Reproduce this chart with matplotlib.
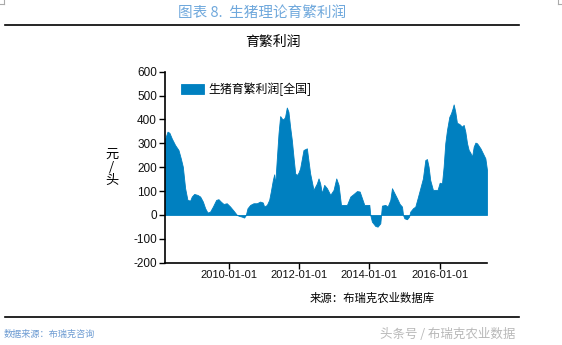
import matplotlib
matplotlib.use("Agg")
import matplotlib.pyplot as plt
import matplotlib.dates as mdates
import pandas as pd

plt.rcParams['font.family'] = ['Noto Sans CJK SC', 'DejaVu Sans']

dates = [
    "2008-03-10", "2008-04-08", "2008-04-28", "2008-05-23", "2008-06-26", "2008-07-31",
    "2008-08-24", "2008-09-14", "2008-10-08", "2008-11-01", "2008-11-29", "2008-12-16",
    "2009-01-10", "2009-02-13", "2009-03-13", "2009-04-10", "2009-05-04", "2009-05-28",
    "2009-06-24", "2009-07-23", "2009-08-26", "2009-09-19", "2009-10-13", "2009-11-10",
    "2009-12-14", "2010-01-18", "2010-02-22", "2010-03-29", "2010-04-22", "2010-05-19",
    "2010-06-12", "2010-06-30", "2010-07-17", "2010-08-14", "2010-09-17", "2010-10-22",
    "2010-11-25", "2010-12-23", "2011-01-06", "2011-02-03", "2011-02-27", "2011-03-16",
    "2011-04-06", "2011-04-20", "2011-04-30", "2011-05-17", "2011-06-04", "2011-06-21",
    "2011-07-08", "2011-07-25", "2011-08-11", "2011-08-29", "2011-09-15", "2011-10-02",
    "2011-10-20", "2011-11-06", "2011-11-24", "2011-12-11", "2011-12-28", "2012-01-14",
    "2012-02-18", "2012-03-24", "2012-04-27", "2012-06-01", "2012-07-06", "2012-07-23",
    "2012-08-09", "2012-08-27", "2012-09-20", "2012-10-18", "2012-11-22", "2012-12-26",
    "2013-01-23", "2013-02-16", "2013-03-13", "2013-04-10", "2013-05-14", "2013-06-18",
    "2013-07-22", "2013-08-26", "2013-09-23", "2013-10-17", "2013-11-10", "2013-12-08",
    "2014-01-01", "2014-01-11", "2014-01-28", "2014-03-04", "2014-03-28", "2014-04-25",
    "2014-05-12", "2014-06-16", "2014-07-10", "2014-08-07", "2014-08-24", "2014-09-10",
    "2014-10-15", "2014-11-12", "2014-12-06", "2014-12-17", "2014-12-31", "2015-01-27",
    "2015-02-17", "2015-03-02", "2015-03-30", "2015-04-23", "2015-05-17", "2015-06-14",
    "2015-07-11", "2015-08-05", "2015-08-22", "2015-09-08", "2015-09-25", "2015-10-23",
    "2015-11-16", "2015-12-10", "2016-01-01", "2016-01-25", "2016-02-11", "2016-02-28",
    "2016-03-17", "2016-04-10", "2016-04-27", "2016-05-14", "2016-05-25", "2016-06-11",
    "2016-06-28", "2016-07-23", "2016-08-19", "2016-09-06", "2016-09-23", "2016-10-11",
    "2016-10-28", "2016-11-14", "2016-12-02", "2016-12-19", "2017-01-06", "2017-01-23",
    "2017-02-27", "2017-04-02", "2017-04-19", "2017-05-06",
]
profit = [
    314, 349, 344, 320, 293, 272,
    237, 202, 112, 63, 60, 77,
    88, 84, 77, 56, 28, 10,
    14, 35, 63, 66, 56, 46,
    49, 35, 18, 0, -4, -7,
    -11, 0, 28, 42, 49, 49,
    56, 52, 35, 42, 63, 98,
    146, 170, 126, 233, 342, 414,
    404, 400, 411, 450, 432, 370,
    314, 244, 174, 167, 177, 195,
    272, 279, 174, 105, 132, 153,
    132, 91, 126, 112, 84, 105,
    153, 126, 42, 42, 42, 77,
    88, 100, 98, 70, 42, 42,
    42, 0, -28, -46, -49, -35,
    39, 42, 35, 63, 112, 98,
    70, 46, 35, 0, -14, -18,
    -7, 14, 28, 35, 70, 112,
    153, 230, 234, 202, 146, 105,
    105, 105, 135, 132, 202, 300,
    356, 411, 425, 446, 463, 432,
    386, 381, 370, 377, 349, 300,
    272, 261, 244, 286, 303, 300,
    279, 251, 237, 188,
]
series_name = "生猪育繁利润[全国]"
yticks = [-200, -100, 0, 100, 200, 300, 400, 500, 600]
xtick_dates = ["2010-01-01", "2012-01-01", "2014-01-01", "2016-01-01"]

x = pd.to_datetime(dates)
W, H = 562, 345
fig = plt.figure(figsize=(W / 100, H / 100), dpi=100)
ax = fig.add_axes([164.7 / W, 1 - 262.7 / H, (487.0 - 164.7) / W, (262.7 - 71.7) / H])

color = "#0080C0"
ax.fill_between(x, profit, 0, color=color, linewidth=0.6, edgecolor=color, label=series_name)
ax.set_xlim(x[0], x[-1])
ax.set_ylim(-200, 600)
ax.set_yticks(yticks)
ax.set_yticklabels([str(v) for v in yticks], fontsize=8.5, family=['Liberation Sans', 'DejaVu Sans'], color='#111111')
xt = pd.to_datetime(xtick_dates)
ax.set_xticks(xt)
ax.set_xticklabels(xtick_dates, fontsize=8, family=['Liberation Sans', 'DejaVu Sans'], color='#111111')
ax.tick_params(axis='both', length=4, width=1, color='black', pad=1.5)
for s in ['top', 'right']:
    ax.spines[s].set_visible(False)
for s in ['left', 'bottom']:
    ax.spines[s].set_linewidth(1.2)
    ax.spines[s].set_color('black')

leg = ax.legend(loc='upper left', bbox_to_anchor=(12 / (487 - 164.7), 1 - 6 / 191), frameon=False,
                fontsize=8.6, handlelength=1.85, handleheight=0.85, handletextpad=0.4, borderaxespad=0)

# y-axis label (stacked vertical)
fig.text(111.7 / W, 1 - 167.5 / H, "元\n/\n头", ha='center', va='center', fontsize=9.5, linespacing=1.0)

# chart title
fig.text(272.7 / W, 1 - 42 / H, "育繁利润", ha='center', va='center', fontsize=10)

# header
fig.text(262 / W, 1 - 13 / H, "图表 8.  生猪理论育繁利润", ha='center', va='center', fontsize=10.5, color='#6FA8DC')
fig.add_artist(plt.Line2D([5 / W, 519 / W], [1 - 24.5 / H, 1 - 24.5 / H], color='black', linewidth=1.2))

# source
fig.text(310 / W, 1 - 298.3 / H, "来源：布瑞克农业数据库", ha='left', va='center', fontsize=8.2)
fig.add_artist(plt.Line2D([5 / W, 519 / W], [1 - 317.3 / H, 1 - 317.3 / H], color='black', linewidth=1.2))

fig.text(4 / W, 1 - 334.3 / H, "数据来源：布瑞克咨询", ha='left', va='center', fontsize=6.6, color='#6C9BD2')
fig.text(515 / W, 1 - 334 / H, "头条号 / 布瑞克农业数据", ha='right', va='center', fontsize=9, color='#B8B8B8')

# corner marks
fig.add_artist(plt.Line2D([0, 4 / W], [1 - 4 / H, 1 - 4 / H], color='#AAAAAA', linewidth=0.8))
fig.add_artist(plt.Line2D([4 / W, 4 / W], [1, 1 - 4 / H], color='#AAAAAA', linewidth=0.8))
fig.add_artist(plt.Line2D([558 / W, 562 / W], [1 - 4 / H, 1 - 4 / H], color='#AAAAAA', linewidth=0.8))
fig.add_artist(plt.Line2D([558 / W, 558 / W], [1, 1 - 4 / H], color='#AAAAAA', linewidth=0.8))

fig.savefig("out.png", dpi=100)
